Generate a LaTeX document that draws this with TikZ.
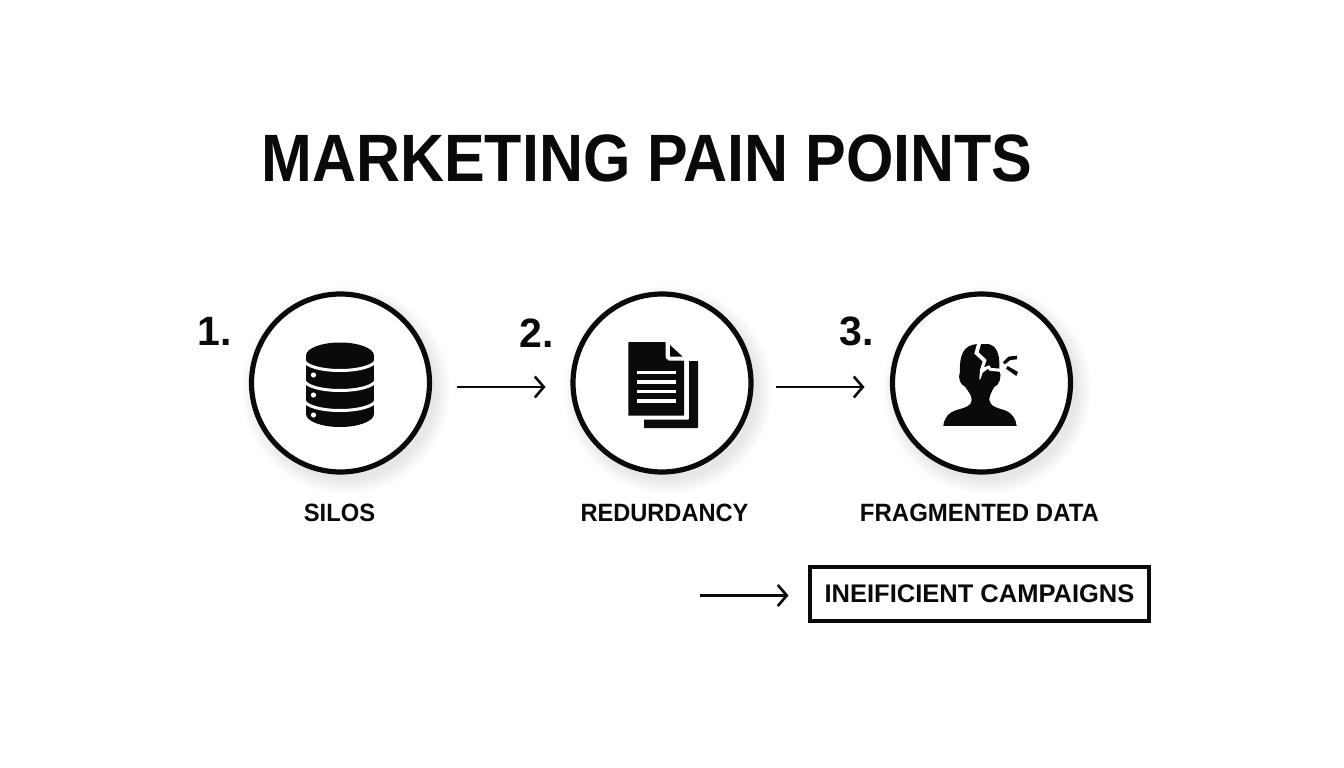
\documentclass[tikz,border=0pt]{standalone}
\usepackage{fontspec}
\setmainfont{Liberation Sans}
\usetikzlibrary{arrows.meta}
\definecolor{ink}{HTML}{0A0A0A}
\tikzset{
  ring/.style={circle,draw=ink,line width=5.2pt,fill=white,minimum size=178pt,inner sep=0pt},
  steplabel/.style={text=ink,font=\bfseries\fontsize{25}{25}\selectfont,inner sep=0pt,anchor=center},
  stepnum/.style={text=ink,font=\bfseries\fontsize{41}{41}\selectfont,inner sep=0pt,anchor=center},
  flow/.style={draw=ink,line width=2.6pt,-{Straight Barb[length=9pt,width=21pt,line width=2.6pt]}},
  outcome/.style={draw=ink,line width=3.2pt,minimum width=339pt,minimum height=54pt,inner sep=0pt,text=ink,font=\bfseries\fontsize{25.5}{25.5}\selectfont},
  whiteline/.style={draw=white,line width=3pt}
}
\begin{document}
\begin{tikzpicture}[x=1pt,y=-1pt]
\useasboundingbox (0,0) rectangle (1344,768);
\fill[white] (0,0) rectangle (1344,768);
% soft shadows
\foreach \cx in {340,662,981}{
  \foreach \r in {104,102,100,98,96,94,92,90}{
    \fill[black,opacity=0.012] (\cx+6,383+7) circle[radius=\r];
  }
}
% title
\node[text=ink,font=\bfseries\fontsize{67}{67}\selectfont,inner sep=0pt] (title) at (647,158) {\scalebox{0.91}[1]{MARKETING PAIN POINTS}};
% circles
\node[ring] (c1) at (340.5,383) {};
\node[ring] (c2) at (662,383) {};
\node[ring] (c3) at (981.5,383) {};
% numbers
\node[stepnum] (n1) at (214.5,331) {1.};
\node[stepnum] (n2) at (537,333) {2.};
\node[stepnum] (n3) at (857,331) {3.};
% labels
\node[steplabel] (l1) at (339.5,513) {\scalebox{0.95}[1]{SILOS}};
\node[steplabel] (l2) at (664.5,513) {\scalebox{0.945}[1]{REDURDANCY}};
\node[steplabel] (l3) at (979.5,513) {\scalebox{0.96}[1]{FRAGMENTED DATA}};
% outcome
\node[outcome] (box) at (979.5,594) {INEIFICIENT CAMPAIGNS};
% connectors
\coordinate (a1s) at (457,387); \coordinate (a1e) at (545.5,387);
\coordinate (a2s) at (776,387); \coordinate (a2e) at (864.5,387);
\coordinate (a3s) at (700,595.5); \coordinate (a3e) at (788.5,595.5);
\draw[flow] (a1s) -- (a1e);
\draw[flow] (a2s) -- (a2e);
\draw[flow] (a3s) -- (a3e);
% database icon
\fill[ink] (306,355.5) rectangle (374,414);
\fill[ink] (340,355.5) ellipse[x radius=34,y radius=13];
\fill[ink] (340,414) ellipse[x radius=34,y radius=13];
\foreach \yy in {359.5,379.5,399.5}{
  \draw[whiteline] (304,\yy) arc[start angle=180,end angle=360,x radius=36,y radius=-11];
}
\foreach \yy in {375,395,415}{
  \fill[white] (313.5,\yy) circle[radius=2.6];
}
% document icon
\fill[ink,rounded corners=0.6pt] (689,361) -- (698,361) -- (698,428) -- (644,428) -- (644,419.5) -- (689,419.5) -- cycle;
\fill[ink,rounded corners=0.6pt] (628.3,342) -- (665.7,342) -- (665.7,358) -- (668.5,360.7) -- (684,360.7) -- (684,415.7) -- (628.3,415.7) -- cycle;
\fill[ink] (670,345) -- (682.7,356.7) -- (670,356.7) -- cycle;
\foreach \yy in {372.5,382,391.5,401}{
  \fill[white] (637,\yy-1.8) rectangle (676,\yy+1.8);
}
% head icon
\begin{scope}[shift={(920,320)},x=0.3333pt,y=-0.3333pt]
\fill[ink] (70,318) .. controls (72,295) and (85,278) .. (110,270)
  .. controls (135,263) and (155,258) .. (155,240)
  .. controls (155,225) and (145,215) .. (135,200)
  .. controls (122,195) and (112,175) .. (120,155)
  .. controls (118,105) and (130,75) .. (172,72)
  -- (205,72) .. controls (232,78) and (240,105) .. (238,150)
  .. controls (247,170) and (238,195) .. (222,202)
  .. controls (212,220) and (208,230) .. (208,240)
  .. controls (208,258) and (235,265) .. (255,271)
  .. controls (278,280) and (288,298) .. (290,318) -- cycle;
% crack as a tapered white shape
\fill[white] (172,68) -- (184,68) -- (176,97) -- (200,120) -- (192,142) -- (208,136) -- (213,144) -- (245,146) -- (245,156) -- (208,152) -- (204,146) -- (188,158) -- (181,178) -- (178,178) -- (180,150) -- (188,124) -- (163,101) -- cycle;
\fill[ink] (248,127) -- (265,110) -- (291,107) -- (291,118) -- (271,120) -- (255,133) -- cycle;
\fill[ink] (258,146) -- (263,138) -- (294,156) -- (289,168) -- cycle;
\end{scope}
\end{tikzpicture}
\end{document}
